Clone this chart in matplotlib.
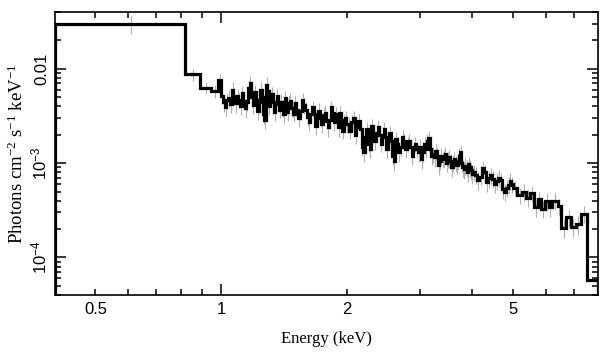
"""
XSPEC-style unfolded spectrum: photons cm^-2 s^-1 keV^-1 vs energy
"""
import numpy as np
import matplotlib
matplotlib.use('Agg')
import matplotlib.pyplot as plt
from matplotlib.ticker import FixedLocator, FuncFormatter, LogLocator, NullFormatter

plt.rcParams['font.family'] = 'Liberation Sans'
plt.rcParams['mathtext.fontset'] = 'custom'
plt.rcParams['mathtext.rm'] = 'Liberation Serif'
plt.rcParams['mathtext.sf'] = 'Liberation Sans'
plt.rcParams['mathtext.it'] = 'Liberation Serif:italic'

# bin edges (keV)
edges = [0.40, 0.82, 0.89, 0.946, 0.984,
         # 1.00 - 1.50
         1.00, 1.01, 1.02, 1.03, 1.04, 1.05, 1.06, 1.07, 1.08, 1.09,
         1.10, 1.11, 1.12, 1.13, 1.14, 1.15, 1.16, 1.17, 1.18, 1.19,
         1.20, 1.21, 1.22, 1.23, 1.24, 1.25, 1.26, 1.27, 1.28, 1.29,
         1.30, 1.31, 1.32, 1.33, 1.34, 1.35, 1.36, 1.37, 1.38, 1.39,
         1.40, 1.41, 1.42, 1.43, 1.44, 1.45, 1.46, 1.47, 1.48, 1.49,
         # 1.50 - 2.01
         1.50, 1.515, 1.53, 1.545, 1.56, 1.575, 1.59, 1.605, 1.62, 1.635,
         1.65, 1.665, 1.68, 1.695, 1.71, 1.725, 1.74, 1.755, 1.77, 1.785,
         1.80, 1.815, 1.83, 1.845, 1.86, 1.875, 1.89, 1.905, 1.92, 1.935,
         1.95, 1.965, 1.98, 1.995,
         # 2.01 - 2.61
         2.01, 2.03, 2.05, 2.07, 2.09, 2.11, 2.13, 2.15, 2.17, 2.19,
         2.21, 2.23, 2.25, 2.27, 2.29, 2.31, 2.33, 2.35, 2.37, 2.39,
         2.41, 2.43, 2.45, 2.47, 2.49, 2.51, 2.53, 2.55, 2.57, 2.59,
         # 2.61 - 3.21
         2.61, 2.635, 2.66, 2.685, 2.71, 2.735, 2.76, 2.785, 2.81, 2.835,
         2.86, 2.885, 2.91, 2.935, 2.96, 2.985, 3.01, 3.035, 3.06, 3.085,
         3.11, 3.135, 3.16, 3.185,
         # 3.21 - 4.01
         3.21, 3.235, 3.26, 3.285, 3.31, 3.335, 3.36, 3.385, 3.41, 3.435,
         3.46, 3.485, 3.51, 3.535, 3.56, 3.585, 3.61, 3.635, 3.66, 3.685,
         3.71, 3.735, 3.76, 3.785, 3.81, 3.835, 3.86, 3.885, 3.91, 3.935,
         3.96, 3.985,
         # 4.01 - 5.01
         4.01, 4.06, 4.11, 4.16, 4.21, 4.26, 4.31, 4.36, 4.41, 4.46,
         4.51, 4.56, 4.61, 4.66, 4.71, 4.76, 4.81, 4.86, 4.91, 4.96,
         # 5.01 - 8.0
         5.01, 5.13, 5.25, 5.37, 5.49, 5.61, 5.73, 5.85, 5.97, 6.09,
         6.21, 6.40,
         6.52, 6.72, 6.88, 7.07, 7.28, 7.53, 8.0]

# flux per bin (1e-4 photons cm^-2 s^-1 keV^-1)
flux = [300, 87, 63, 58, 76,
        52, 44, 39, 47, 49, 42, 60, 51, 43, 51,
        47, 40, 55, 46, 38, 45, 62, 70, 50, 41,
        57, 47, 36, 44, 60, 50, 33, 29, 68, 58,
        40, 48, 54, 45, 35, 42, 51, 43, 37, 45,
        39, 33, 49, 41, 35, 43, 46, 38, 38, 33,
        43, 37, 30, 36, 47, 41, 37, 31, 27, 33,
        39, 33, 25, 30, 36, 30, 26, 32, 34, 28,
        24, 29, 39, 34, 27, 33, 29, 24, 34, 29,
        22, 27, 30, 26,
        26, 22, 27, 30, 20, 24, 28, 23, 15, 13,
        19, 23, 16, 14, 25, 21, 17, 21, 24, 20,
        16, 20, 23, 19, 14, 18, 21, 17, 12, 10.5,
        18, 16, 13, 15, 19, 17, 14, 16, 17, 15,
        12, 14, 16, 14, 13, 15, 11, 13, 16, 14,
        17, 18.5, 14, 12,
        12.5, 11.5, 13.5, 12, 9.5, 10.5, 12, 11, 11.5, 12.5,
        10, 11, 11.5, 10.5, 9, 10, 11, 10, 9.5, 10.5,
        12, 13, 10, 9, 8.6, 9.4, 9, 8, 9.8, 9,
        8.4, 7.6,
        8.0, 7.5, 6.6, 7.2, 8.8, 8.0, 6.3, 6.9, 7.4, 6.8,
        6.0, 6.5, 7.0, 6.6, 5.3, 5.0, 5.5, 5.9, 6.5, 6.0,
        5.5, 4.6, 5.0, 4.3, 4.8, 3.4, 4.2, 3.3, 4.0, 3.4,
        4.0, 3.5,
        2.04, 2.66, 2.10, 2.25, 2.91, 0.57]

# 1-sigma errors (same units)
err = [65, 13, 9, 9, 12,
       10, 9, 8, 9, 10, 8, 12, 10, 9, 10,
       9, 8, 11, 9, 8, 9, 12, 13, 10, 8,
       11, 9, 7, 9, 12, 10, 7, 6, 13, 11,
       8, 9, 10, 9, 7, 8, 10, 8, 7, 9,
       8, 7, 9, 8, 7, 8, 9, 7, 7, 6,
       8, 7, 6, 7, 9, 8, 7, 6, 5, 6,
       7, 6, 5, 6, 7, 6, 5, 6, 6, 5,
       5, 5, 7, 6, 5, 6, 5, 5, 6, 5,
       4, 5, 6, 5,
       5, 4, 5, 6, 4, 4.5, 5, 4.5, 3, 2.6,
       3.5, 4.5, 3, 2.8, 4.5, 4, 3.3, 4, 4.5, 4,
       3, 4, 4.5, 3.5, 2.8, 3.5, 4, 3.3, 2.4, 2.2,
       3.4, 3, 2.6, 3, 3.6, 3.3, 2.8, 3, 3.3, 2.9,
       2.4, 2.8, 3, 2.8, 2.6, 2.9, 2.3, 2.6, 3, 2.8,
       3.2, 3.4, 2.8, 2.4,
       2.4, 2.3, 2.6, 2.4, 2, 2.1, 2.4, 2.2, 2.3, 2.4,
       2, 2.2, 2.3, 2.1, 1.9, 2, 2.2, 2, 1.9, 2.1,
       2.4, 2.5, 2, 1.8, 1.8, 1.9, 1.8, 1.7, 1.9, 1.8,
       1.7, 1.6,
       1.6, 1.5, 1.4, 1.4, 1.7, 1.6, 1.3, 1.4, 1.5, 1.4,
       1.2, 1.3, 1.4, 1.3, 1.1, 1.0, 1.1, 1.2, 1.3, 1.2,
       1.0, 0.9, 1.0, 0.9, 0.9, 0.7, 0.8, 0.7, 0.8, 0.7,
       0.8, 0.7,
       0.45, 0.55, 0.45, 0.5, 0.6, 0]

edges = np.array(edges)
flux = np.array(flux) * 1e-4
err = np.array(err) * 1e-4
centres = 0.5 * (edges[:-1] + edges[1:])

fig = plt.figure(figsize=(6.09, 3.57), dpi=100)
ax = fig.add_axes([0.0903, 0.1737, 0.8917, 0.7927])

ax.errorbar(centres, flux, yerr=err, fmt='none', ecolor='#b0b0b0',
            elinewidth=0.8, zorder=1)
ax.stairs(flux, edges, color='black', lw=2.3, zorder=2)

ax.set_xscale('log')
ax.set_yscale('log')
ax.set_xlim(0.4, 8.0)
ax.set_ylim(4e-5, 0.04)

# x ticks: long tick only at 1, labels on 0.5 / 2 / 5 minors
ax.xaxis.set_major_locator(FixedLocator([1]))
ax.xaxis.set_major_formatter(FuncFormatter(lambda v, p: '1'))
ax.xaxis.set_minor_locator(FixedLocator([0.5, 0.6, 0.7, 0.8, 0.9, 2, 3, 4, 5, 6, 7]))
ax.xaxis.set_minor_formatter(FuncFormatter(
    lambda v, p: {0.5: '0.5', 2.0: '2', 5.0: '5'}.get(round(v, 2), '')))

ylabels = {-4: r'$\mathsf{10^{-4}}$', -3: r'$\mathsf{10^{-3}}$', -2: '0.01'}
ax.yaxis.set_major_locator(LogLocator(base=10))
ax.yaxis.set_major_formatter(FuncFormatter(
    lambda v, p: ylabels.get(int(round(np.log10(v))), '')))
ax.yaxis.set_minor_locator(LogLocator(base=10, subs=np.arange(2, 10)))
ax.yaxis.set_minor_formatter(NullFormatter())

ax.tick_params(which='both', direction='in', top=True, right=True,
               width=1.1, labelsize=12)
ax.tick_params(which='major', length=8)
ax.tick_params(which='minor', length=4)
ax.tick_params(axis='x', which='both', pad=5)
ax.tick_params(axis='y', which='major', labelrotation=90, pad=4)
for t in ax.get_yticklabels():
    t.set_va('center')

for s in ax.spines.values():
    s.set_linewidth(1.2)

ax.set_xlabel('Energy (keV)', fontfamily='Liberation Serif', fontsize=12, labelpad=10)
ax.set_ylabel(r'Photons cm$^{-2}$ s$^{-1}$ keV$^{-1}$',
              fontfamily='Liberation Serif', fontsize=13.5, labelpad=2)

plt.savefig('out.png', dpi=100, facecolor='white')
